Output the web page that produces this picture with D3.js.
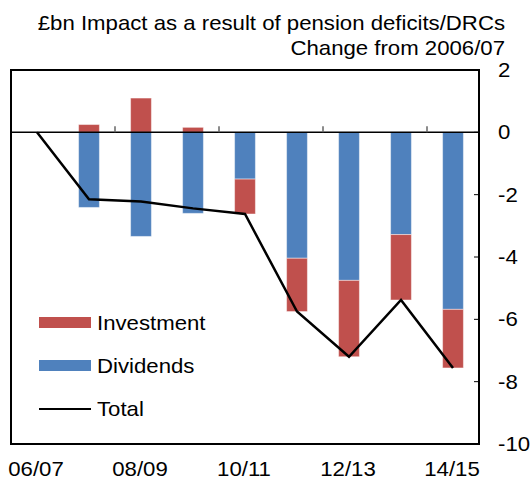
<!DOCTYPE html>
<html>
<head>
<meta charset="utf-8">
<script src="https://cdn.jsdelivr.net/npm/d3@7"></script>
<style>
  body { margin: 0; background: #fff; }
  svg { display: block; font-family: "Liberation Sans", Arial, sans-serif; }
</style>
</head>
<body>
<svg id="chart" width="532" height="479"></svg>
<script>
const categories = ["06/07", "07/08", "08/09", "09/10", "10/11", "11/12", "12/13", "13/14", "14/15"];
const investment = [0, 0.25, 1.1, 0.16, -1.12, -1.71, -2.45, -2.1, -1.88];
const dividends = [0, -2.41, -3.34, -2.6, -1.5, -4.04, -4.75, -3.28, -5.68];
const total = [0, -2.15, -2.22, -2.44, -2.62, -5.75, -7.2, -5.38, -7.56];
const yTicks = [2, 0, -2, -4, -6, -8, -10];
const xLabels = ["06/07", "08/09", "10/11", "12/13", "14/15"];
const titleLines = ["£bn Impact as a result of pension deficits/DRCs", "Change from 2006/07"];

const colors = { Investment: "#C0504D", Dividends: "#4F81BD" };

// plot box
const plot = { left: 11, right: 479, top: 70, bottom: 444 };
const fontSize = 20;
const stretch = 1.11; // the source text is a bit wider than plain Arial

const svg = d3.select("#chart");

const x = d3.scaleBand().domain(categories).range([plot.left, plot.right]);
const y = d3.scaleLinear().domain([-10, 2]).range([plot.bottom, plot.top]);
const barW = x.bandwidth() * 0.4;

const place = (px, py) => `translate(${px},${py}) scale(${stretch},1)`;

// title
svg.append("g")
  .selectAll("text")
  .data(titleLines)
  .join("text")
  .attr("transform", (d, i) => place(505, 30 + i * 25))
  .attr("text-anchor", "end")
  .attr("font-size", fontSize)
  .text(d => d);

// stacked bars
const rows = categories.map((c, i) => ({ cat: c, Dividends: dividends[i], Investment: investment[i] }));
const series = d3.stack()
  .keys(["Dividends", "Investment"])
  .offset(d3.stackOffsetDiverging)(rows);

svg.append("g")
  .selectAll("g")
  .data(series)
  .join("g")
  .attr("fill", s => colors[s.key])
  .selectAll("rect")
  .data(s => s)
  .join("rect")
  .attr("x", d => x(d.data.cat) + (x.bandwidth() - barW) / 2)
  .attr("y", d => y(Math.max(d[0], d[1])))
  .attr("width", barW)
  .attr("height", d => Math.abs(y(d[0]) - y(d[1])))
  .attr("stroke", "#fff")
  .attr("stroke-opacity", 0.45)
  .attr("stroke-width", 1);

// zero line with small ticks every two categories
svg.append("line")
  .attr("x1", plot.left).attr("x2", plot.right)
  .attr("y1", y(0)).attr("y2", y(0))
  .attr("stroke", "#000")
  .attr("stroke-width", 1.5);

svg.append("g")
  .selectAll("line")
  .data(categories.filter((c, i) => i > 0 && i % 2 === 0))
  .join("line")
  .attr("x1", d => x(d)).attr("x2", d => x(d))
  .attr("y1", y(0)).attr("y2", y(0) - 6)
  .attr("stroke", "#666")
  .attr("stroke-width", 1.5);

// total line
svg.append("path")
  .datum(total)
  .attr("fill", "none")
  .attr("stroke", "#000")
  .attr("stroke-width", 2.5)
  .attr("d", d3.line()
    .x((d, i) => x(categories[i]) + x.bandwidth() / 2)
    .y(d => y(d)));

// frame
svg.append("rect")
  .attr("x", plot.left).attr("y", plot.top)
  .attr("width", plot.right - plot.left).attr("height", plot.bottom - plot.top)
  .attr("fill", "none")
  .attr("stroke", "#000")
  .attr("stroke-width", 2);

// right axis
const yAxis = svg.append("g");
yAxis.selectAll("line")
  .data(yTicks)
  .join("line")
  .attr("x1", plot.right - 5).attr("x2", plot.right)
  .attr("y1", d => y(d)).attr("y2", d => y(d))
  .attr("stroke", "#000")
  .attr("stroke-width", 1);
yAxis.selectAll("text")
  .data(yTicks)
  .join("text")
  .attr("transform", d => place(498, y(d) + 7))
  .attr("font-size", fontSize)
  .text(d => d);

// x labels
svg.append("g")
  .selectAll("text")
  .data(xLabels)
  .join("text")
  .attr("transform", d => place(x(d) + x.bandwidth() / 2 - 1, 476))
  .attr("text-anchor", "middle")
  .attr("font-size", fontSize)
  .text(d => d);

// legend
const legendItems = [
  { name: "Investment", type: "bar", cy: 323 },
  { name: "Dividends", type: "bar", cy: 366 },
  { name: "Total", type: "line", cy: 409 }
];
const lg = svg.append("g")
  .selectAll("g")
  .data(legendItems)
  .join("g");
lg.filter(d => d.type === "bar")
  .append("rect")
  .attr("x", 39).attr("y", d => d.cy - 6)
  .attr("width", 52).attr("height", 11)
  .attr("fill", d => colors[d.name]);
lg.filter(d => d.type === "line")
  .append("line")
  .attr("x1", 39).attr("x2", 91)
  .attr("y1", d => d.cy).attr("y2", d => d.cy)
  .attr("stroke", "#000")
  .attr("stroke-width", 2);
lg.append("text")
  .attr("transform", d => place(97, d.cy + 7))
  .attr("font-size", fontSize)
  .text(d => d.name);
</script>
</body>
</html>
